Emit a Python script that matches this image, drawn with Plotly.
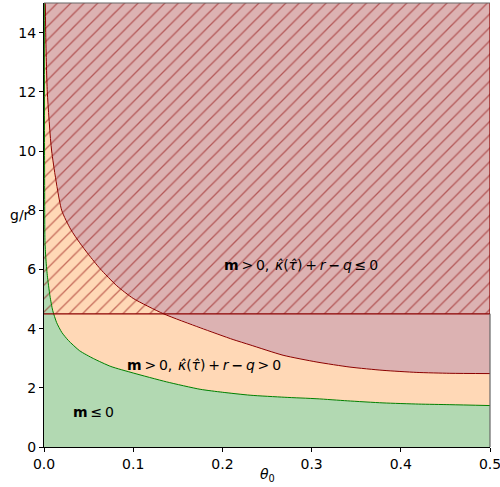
import plotly.graph_objects as go

# ---- data ----
green_theta = [0.0, 0.0003, 0.0006, 0.0011, 0.002, 0.0037, 0.0067, 0.0097, 0.0142, 0.02, 0.0273,
               0.04, 0.0553, 0.075, 0.1, 0.1375, 0.175, 0.2, 0.231, 0.27, 0.306, 0.34, 0.38, 0.42, 0.455, 0.5]
green_g = [16.0, 15.5, 10.0, 6.98, 6.4, 5.8, 5.1, 4.62, 4.2, 3.87, 3.6,
           3.25, 2.99, 2.72, 2.5, 2.2, 1.95, 1.85, 1.75, 1.68, 1.63, 1.56, 1.49, 1.45, 1.43, 1.40]

red_theta = [0.0014, 0.0019, 0.0037, 0.0086, 0.0198, 0.03, 0.040, 0.050, 0.063, 0.0815, 0.1, 0.134,
             0.175, 0.212, 0.231, 0.268, 0.306, 0.343, 0.38, 0.418, 0.455, 0.5]
red_g = [15.5, 14.0, 12.0, 10.0, 8.0, 7.35, 6.9, 6.5, 6.02, 5.45, 5.02, 4.5,
         4.03, 3.63, 3.45, 3.1, 2.87, 2.70, 2.59, 2.52, 2.49, 2.48]

hatch_level = 4.5
x_range = [0.0, 0.5]
y_range = [0.0, 15.0]
x_ticks = [0.0, 0.1, 0.2, 0.3, 0.4, 0.5]
x_tick_labels = ["0.0", "0.1", "0.2", "0.3", "0.4", "0.5"]
y_ticks = [0, 2, 4, 6, 8, 10, 12, 14]

S = "\u2009"  # thin space (mathtext-like spacing)
labels = [
    (f"<b>m</b>{S}>{S}0,{S}{S}<i>κ̂</i>(<i>τ̂</i>){S}+{S}<i>r</i>{S}<b>−</b>{S}<i>q</i>{S}≤{S}0", 0.2, 6.14),
    (f"<b>m</b>{S}>{S}0,{S}{S}<i>κ̂</i>(<i>τ̂</i>){S}+{S}<i>r</i>{S}<b>−</b>{S}<i>q</i>{S}>{S}0", 0.091, 2.76),
    (f"<b>m</b>{S}≤{S}0", 0.030, 1.17),
]

GREEN_FILL = "rgba(0,128,0,0.3)"
ORANGE_FILL = "rgba(255,127,14,0.3)"
RED_FILL = "rgba(139,0,0,0.3)"
DARKRED = "#8b0000"
TOP = 16.0

fig = go.Figure()

# green region: below green curve
fig.add_trace(go.Scatter(
    x=[0.0] + green_theta + [green_theta[-1]],
    y=[0.0] + green_g + [0.0],
    fill="toself", fillcolor=GREEN_FILL, mode="lines", line=dict(width=0),
    hoverinfo="skip", showlegend=False))

# orange region: between green and red curves
fig.add_trace(go.Scatter(
    x=green_theta + red_theta[::-1],
    y=green_g + red_g[::-1],
    fill="toself", fillcolor=ORANGE_FILL, mode="lines", line=dict(width=0),
    hoverinfo="skip", showlegend=False))

# red region: above red curve
fig.add_trace(go.Scatter(
    x=red_theta + [red_theta[-1], red_theta[0]],
    y=red_g + [TOP, TOP],
    fill="toself", fillcolor=RED_FILL, mode="lines", line=dict(width=0),
    hoverinfo="skip", showlegend=False))

# hatched region
fig.add_trace(go.Scatter(
    x=[x_range[0], x_range[1], x_range[1], x_range[0], x_range[0]],
    y=[hatch_level, hatch_level, y_range[1], y_range[1], hatch_level],
    fill="toself", fillcolor="rgba(0,0,0,0)", mode="lines", line=dict(width=0),
    fillpattern=dict(shape="/", fgcolor=DARKRED, bgcolor="rgba(0,0,0,0)", size=9.5, solidity=0.14),
    hoverinfo="skip", showlegend=False))

# curves
fig.add_trace(go.Scatter(x=green_theta[1:], y=green_g[1:], mode="lines",
                         line=dict(color="green", width=1, shape="spline", smoothing=0.6),
                         hoverinfo="skip", showlegend=False))
fig.add_trace(go.Scatter(x=red_theta, y=red_g, mode="lines",
                         line=dict(color=DARKRED, width=1, shape="spline", smoothing=0.6),
                         hoverinfo="skip", showlegend=False))
# hatch edge
fig.add_trace(go.Scatter(x=[x_range[0], x_range[1], x_range[1]],
                         y=[hatch_level, hatch_level, y_range[1]], mode="lines",
                         line=dict(color=DARKRED, width=1.2),
                         hoverinfo="skip", showlegend=False))

for txt, x, y in labels:
    fig.add_annotation(x=x, y=y, text=txt, showarrow=False, xanchor="left", yanchor="middle",
                       font=dict(family="DejaVu Sans", size=14, color="black"))

fig.add_annotation(xref="paper", x=0, y=7.85, text="g/r", showarrow=False,
                   xanchor="right", yanchor="middle", xshift=-12,
                   font=dict(family="DejaVu Sans", size=14, color="black"))
fig.add_annotation(x=0.25, yref="paper", y=0, text="<i>θ</i><sub>0</sub>", showarrow=False,
                   xanchor="center", yanchor="top", yshift=-17,
                   font=dict(family="DejaVu Sans", size=14, color="black"))

# top and right spines (gray)
fig.add_shape(type="line", xref="paper", yref="paper", x0=0, x1=1, y0=1, y1=1,
              line=dict(color="#666666", width=1.2), layer="above")
fig.add_shape(type="line", xref="paper", yref="y", x0=1, x1=1, y0=y_range[0], y1=hatch_level,
              line=dict(color="#666666", width=1.2), layer="above")

fig.update_layout(
    width=500, height=487,
    margin=dict(l=44, r=10, t=3, b=40, autoexpand=False),
    paper_bgcolor="white", plot_bgcolor="white",
    font=dict(family="DejaVu Sans", size=14, color="black"),
)
fig.update_xaxes(range=x_range, tickvals=x_ticks, ticktext=x_tick_labels, automargin=False,
                 ticklabeloverflow="allow",
                 showgrid=False, zeroline=False, showline=True, linecolor="black", linewidth=1,
                 ticks="outside", ticklen=4, tickwidth=1, tickcolor="black",
                 tickfont=dict(family="DejaVu Sans", size=14, color="black"))
fig.update_yaxes(range=y_range, tickvals=y_ticks, automargin=False,
                 ticklabeloverflow="allow",
                 showgrid=False, zeroline=False, showline=True, linecolor="black", linewidth=1,
                 ticks="outside", ticklen=4, tickwidth=1, tickcolor="black",
                 tickfont=dict(family="DejaVu Sans", size=14, color="black"))

fig.write_html("out.html", config={"displayModeBar": False},
               post_script="document.body.style.margin='0';document.body.style.padding='0';")
